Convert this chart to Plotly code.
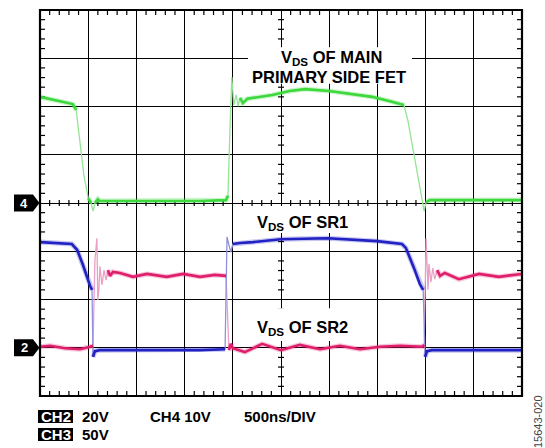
import plotly.graph_objects as go

# ---------------- data (time in ns, level in screen divisions) ----------------
green_t = [0, 160, 340, 375, 415, 455, 500, 530, 550, 570, 600, 620, 1140, 1660, 1930, 1950,
           1970, 1990, 2010, 2035, 2055, 2075, 2105, 2150, 2230, 2410, 2590, 2750, 3000, 3215,
           3445, 3630, 3775, 3815, 3870, 3920, 3965, 3985, 4005, 4045, 4460, 5000]
green_v = [6.20, 6.13, 6.05, 5.93, 5.31, 4.58, 4.10, 4.00, 3.83, 4.00, 4.08, 4.04, 4.04, 4.04, 4.06, 4.15,
           5.51, 6.61, 6.03, 6.24, 6.01, 6.18, 6.07, 6.16, 6.18, 6.24, 6.32, 6.36, 6.32, 6.26,
           6.20, 6.11, 6.03, 5.72, 5.10, 4.48, 4.06, 3.83, 4.02, 4.06, 4.06, 4.06]

blue_t = [0, 330, 385, 445, 520, 540, 550, 570, 620, 1140, 1660, 1920, 1940, 1960, 1980, 2000,
          2075, 2210, 2500, 2985, 3495, 3755, 3795, 3880, 3940, 3975, 3995, 4015, 4065, 4460, 5000]
blue_v = [3.19, 3.15, 3.03, 2.72, 2.28, 2.20, 0.81, 0.93, 0.95, 0.95, 0.95, 0.97, 3.30, 3.13, 2.98, 3.15,
          3.17, 3.19, 3.25, 3.27, 3.21, 3.15, 3.07, 2.65, 2.32, 2.20, 0.81, 0.93, 0.95, 0.95, 0.95]

mag_t = [0, 105, 260, 415, 520, 550, 570, 590, 600, 612, 622, 643, 664, 685, 705, 726, 757, 830,
         965, 1110, 1315, 1485, 1660, 1815, 1930, 1950, 1960, 1980, 2000, 2125, 2305, 2500, 2695,
         2905, 3110, 3320, 3525, 3735, 3965, 3985, 4005, 4025, 4035, 4055, 4075, 4095, 4120, 4150,
         4200, 4345, 4555, 4760, 5000]
mag_v = [1.02, 1.04, 0.99, 0.97, 1.02, 1.04, 2.82, 3.27, 1.99, 2.24, 2.69, 2.30, 2.61, 2.40, 2.61, 2.49, 2.57, 2.55,
         2.47, 2.53, 2.47, 2.53, 2.47, 2.51, 2.49, 1.16, 0.95, 1.08, 0.99, 0.91, 1.08, 0.95, 1.06,
         0.97, 1.04, 0.97, 1.02, 1.04, 1.02, 1.06, 3.27, 2.20, 2.74, 2.36, 2.65, 2.42, 2.61, 2.49,
         2.55, 2.42, 2.53, 2.47, 2.53]

channel_markers = [("4", 4.0), ("2", 1.0)]
labels = [("V<sub>DS</sub> OF MAIN", 3019, 7.00),
          ("PRIMARY SIDE FET", 2993, 6.61),
          ("V<sub>DS</sub> OF SR1", 2723, 3.58),
          ("V<sub>DS</sub> OF SR2", 2718, 1.41)]
label_boxes = [(2158, 3859, 6.47, 7.23), (2178, 3371, 3.38, 3.94), (2178, 3371, 1.14, 1.82)]
bottom_texts = [("20V", 80, 416.5), ("CH4 10V", 148, 416.5), ("500ns/DIV", 242, 416.5), ("50V", 80, 434.5)]
boxed_texts = [("CH2", 416.5), ("CH3", 434.5)]
figure_id = "15643-020"

T_MAX, N_XDIV, N_YDIV = 5000, 10, 8

# ---------------- layout geometry ----------------
W, H = 545, 448
ML, MR, MT, MB = 40, 23, 10, 52
PW, PH = W - ML - MR, H - MT - MB
PX_PER_NS = PW / T_MAX
PX_PER_DIV = PH / N_YDIV
FONT = "Liberation Sans, Arial, sans-serif"


def px(x):
    return (x - ML) / PW


def py(y):
    return (H - MB - y) / PH


def thick_parts(t, v):
    xs, ys = [], []
    for i in range(len(t) - 1):
        dx = (t[i + 1] - t[i]) * PX_PER_NS
        dy = abs(v[i + 1] - v[i]) * PX_PER_DIV
        if dy > 3.5 * dx:
            xs.append(None); ys.append(None)
        else:
            xs += [t[i], t[i + 1]]; ys += [v[i], v[i + 1]]
    return xs, ys


fig = go.Figure()
channels = [(green_t, green_v, "#3cd83c", "#95e495"),
            (mag_t, mag_v, "#e01f6c", "#eaa0c4"),
            (blue_t, blue_v, "#2222c4", "#9090dc")]
for t, v, col, light in channels:
    fig.add_trace(go.Scatter(x=t, y=v, mode="lines", line=dict(color=light, width=1.3),
                             hoverinfo="skip", showlegend=False))
for t, v, col, light in channels:
    xs, ys = thick_parts(t, v)
    fig.add_trace(go.Scatter(x=xs, y=ys, mode="lines", line=dict(color=col, width=5),
                             opacity=0.25, hoverinfo="skip", showlegend=False))
    fig.add_trace(go.Scatter(x=xs, y=ys, mode="lines", line=dict(color=col, width=2.6),
                             hoverinfo="skip", showlegend=False))

shapes = []
dx_minor = T_MAX / N_XDIV / 5
# ticks along top / bottom borders and center horizontal line
for k in range(1, N_XDIV * 5):
    if k % 5 == 0:
        continue
    x = k * dx_minor
    shapes.append(dict(type="line", xref="x", yref="y", ysizemode="pixel", yanchor=N_YDIV,
                       x0=x, x1=x, y0=-5, y1=0, line=dict(color="black", width=1.2), layer="between"))
    shapes.append(dict(type="line", xref="x", yref="y", ysizemode="pixel", yanchor=0,
                       x0=x, x1=x, y0=0, y1=5, line=dict(color="black", width=1.2), layer="between"))
    shapes.append(dict(type="line", xref="x", yref="y", ysizemode="pixel", yanchor=N_YDIV / 2,
                       x0=x, x1=x, y0=-3, y1=3, line=dict(color="black", width=1.2), layer="between"))
for k in range(1, N_YDIV * 5):
    if k % 5 == 0:
        continue
    y = k * 0.2
    shapes.append(dict(type="line", xref="x", yref="y", xsizemode="pixel", xanchor=0,
                       x0=0, x1=5, y0=y, y1=y, line=dict(color="black", width=1.2), layer="between"))
    shapes.append(dict(type="line", xref="x", yref="y", xsizemode="pixel", xanchor=T_MAX,
                       x0=-5, x1=0, y0=y, y1=y, line=dict(color="black", width=1.2), layer="between"))
    shapes.append(dict(type="line", xref="x", yref="y", xsizemode="pixel", xanchor=T_MAX / 2,
                       x0=-3, x1=3, y0=y, y1=y, line=dict(color="black", width=1.2), layer="between"))
# white boxes behind labels
for x0, x1, y0, y1 in label_boxes:
    shapes.append(dict(type="rect", xref="x", yref="y", x0=x0, x1=x1, y0=y0, y1=y1,
                       fillcolor="white", line=dict(width=0), layer="between"))
# border
shapes.append(dict(type="rect", xref="paper", yref="paper", x0=0, x1=1, y0=0, y1=1,
                   line=dict(color="black", width=2.2), layer="above"))

annotations = []
# channel markers
for name, lvl in channel_markers:
    yc = H - MB - lvl * PX_PER_DIV
    path = "M {} {} L {} {} L {} {} L {} {} L {} {} Z".format(
        px(14), py(yc - 8.5), px(33), py(yc - 8.5), px(39.5), py(yc), px(33), py(yc + 8.5),
        px(14), py(yc + 8.5))
    shapes.append(dict(type="path", xref="paper", yref="paper", path=path,
                       fillcolor="black", line=dict(width=0), layer="below"))
    annotations.append(dict(text="<b>%s</b>" % name, x=px(24), y=py(yc), xref="paper", yref="paper",
                            showarrow=False, xanchor="center", yanchor="middle",
                            font=dict(color="#ffffff", size=13, family=FONT)))
# labels
for txt, x, y in labels:
    annotations.append(dict(text="<b>%s</b>" % txt, x=x, y=y, xref="x", yref="y", showarrow=False,
                            xanchor="center", yanchor="middle",
                            font=dict(color="black", size=16.5, family=FONT)))
# bottom texts
for txt, x, y in bottom_texts:
    annotations.append(dict(text="<b>%s</b>" % txt, x=px(x), y=py(y), xref="paper", yref="paper",
                            showarrow=False, xanchor="left", yanchor="middle",
                            font=dict(color="black", size=15, family=FONT)))
for txt, y in boxed_texts:
    shapes.append(dict(type="rect", xref="paper", yref="paper", x0=px(38), x1=px(73),
                       y0=py(y + 6.5), y1=py(y - 6.5), fillcolor="black", line=dict(width=0)))
    annotations.append(dict(text="<b>%s</b>" % txt, x=px(55.5), y=py(y), xref="paper", yref="paper",
                            showarrow=False, xanchor="center", yanchor="middle",
                            font=dict(color="white", size=15, family=FONT)))
annotations.append(dict(text=figure_id, x=px(538), y=py(422), xref="paper", yref="paper",
                        showarrow=False, textangle=-90, xanchor="center", yanchor="middle",
                        font=dict(color="#444444", size=11, family=FONT)))

fig.update_layout(
    width=W, height=H, margin=dict(l=ML, r=MR, t=MT, b=MB),
    paper_bgcolor="white", plot_bgcolor="white",
    shapes=shapes, annotations=annotations, showlegend=False,
    xaxis=dict(range=[0, T_MAX], dtick=T_MAX / N_XDIV, tick0=0, showgrid=True, gridcolor="black",
               gridwidth=1.3, showticklabels=False, zeroline=False, showline=False, ticks="",
               fixedrange=True),
    yaxis=dict(range=[0, N_YDIV], dtick=1, tick0=0, showgrid=True, gridcolor="black",
               gridwidth=1.3, showticklabels=False, zeroline=False, showline=False, ticks="",
               fixedrange=True),
)

fig.write_html("out.html", config={"displayModeBar": False},
               post_script="document.body.style.margin='0';document.body.style.overflow='hidden';")
